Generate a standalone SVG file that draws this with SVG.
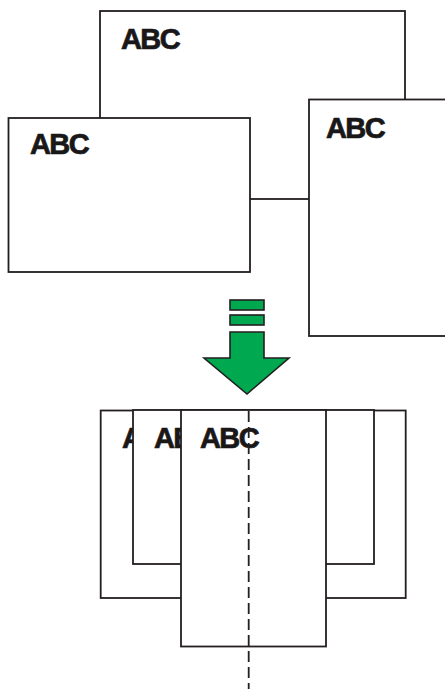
<svg xmlns="http://www.w3.org/2000/svg" width="445" height="689" viewBox="0 0 445 689">
<style>
.box{fill:#fff;stroke:#231f20;stroke-width:1.8}
.lbl{font-family:"Liberation Sans",Arial,sans-serif;font-weight:bold;font-size:29px;letter-spacing:-1.6px;fill:#1a1718;stroke:#1a1718;stroke-width:0.7px}
.green{fill:#00a84f;stroke:#231f20;stroke-width:1.6}
</style>
<rect width="445" height="689" fill="#fff"/>
<g id="connectors"></g>
<g id="top-box"><rect class="box" x="100" y="11" width="305" height="188"/><text class="lbl" x="121" y="49">ABC</text></g>
<g id="left-box"><rect class="box" x="8.5" y="118" width="241.5" height="154"/><text class="lbl" x="30" y="154">ABC</text></g>
<g id="right-box"><rect class="box" x="309" y="99.5" width="140" height="236.5"/><text class="lbl" x="326" y="138">ABC</text></g>
<g id="arrow">
<rect class="green" x="230" y="300" width="34" height="10"/>
<rect class="green" x="230" y="315" width="34" height="10"/>
<path class="green" d="M230 332 H264 V358 H289 L247 394 L204 358 H230 Z"/>
</g>
<g id="stack-back"><rect class="box" x="100.7" y="410.5" width="305" height="187.5"/><text class="lbl" x="122" y="448">ABC</text></g>
<g id="stack-middle"><rect class="box" x="133" y="410" width="241" height="154"/><text class="lbl" x="154" y="448">ABC</text></g>
<g id="stack-front"><rect class="box" x="181" y="410" width="145" height="236.5"/><text class="lbl" x="200" y="448">ABC</text></g>
<g id="axis"><line x1="248.7" y1="411" x2="248.7" y2="689" stroke="#231f20" stroke-width="1.8" stroke-dasharray="11 5"/></g>
</svg>
